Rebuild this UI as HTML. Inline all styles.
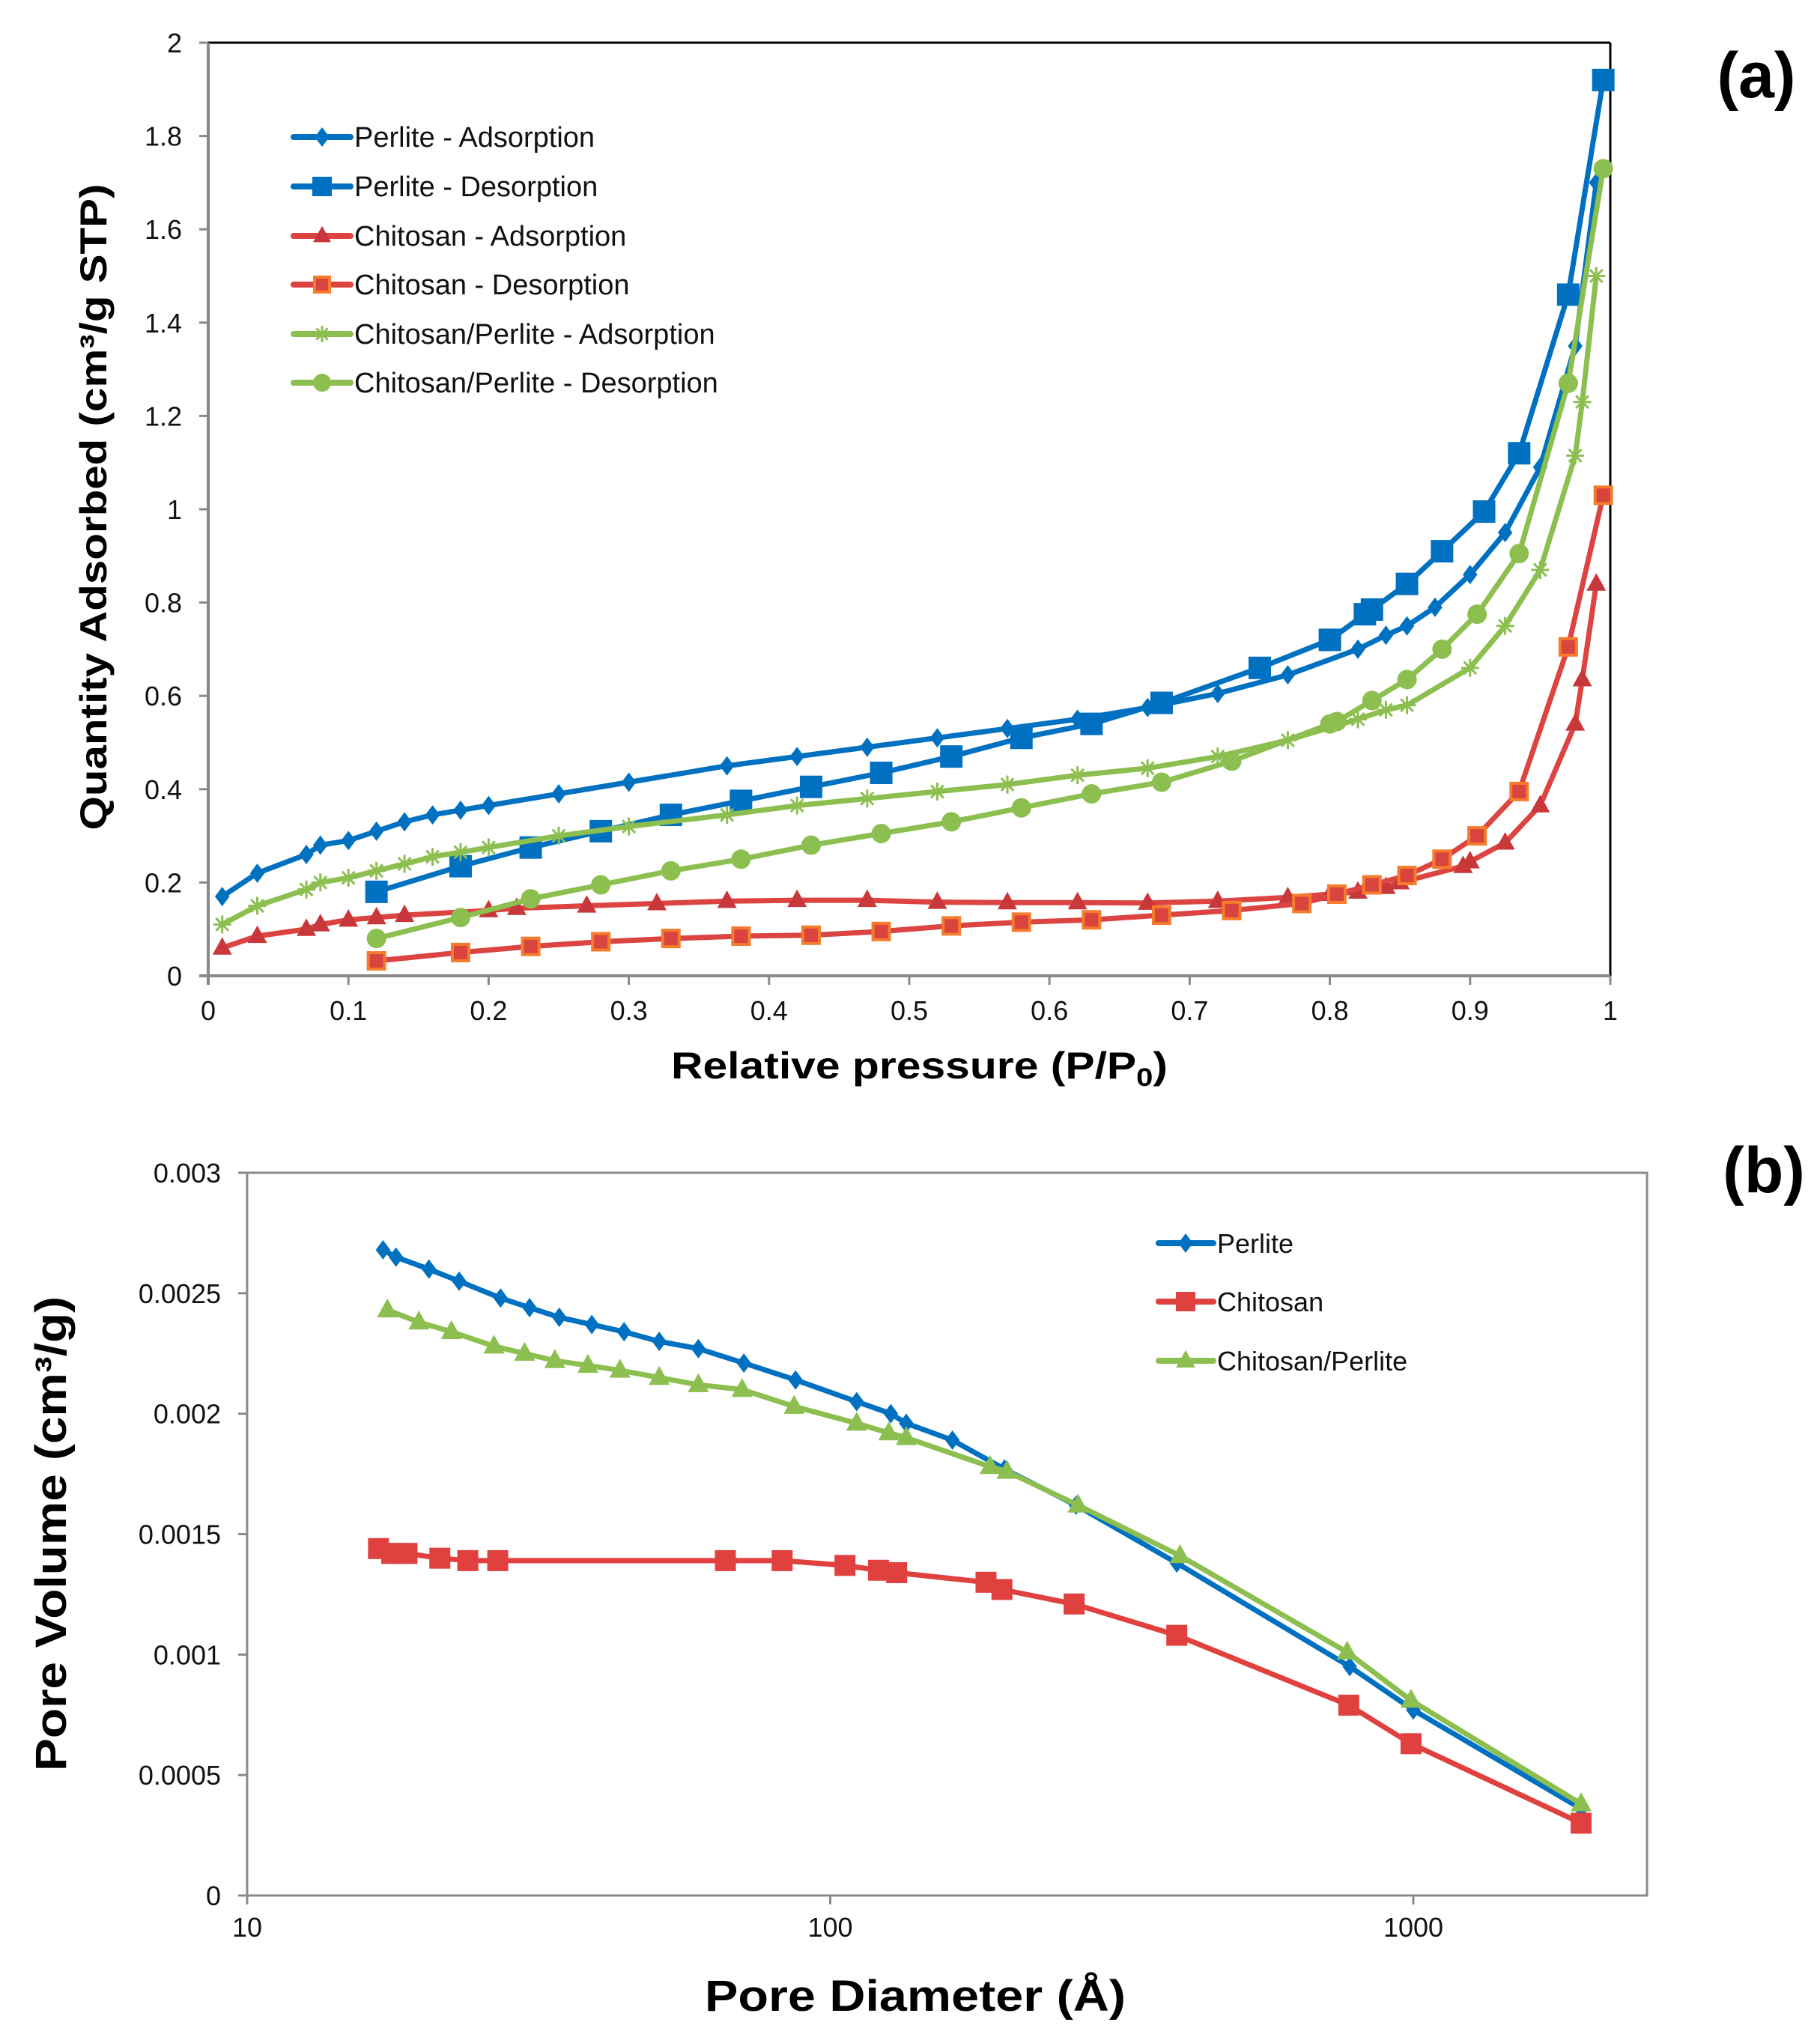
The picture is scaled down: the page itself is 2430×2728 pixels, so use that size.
<!DOCTYPE html>
<html><head><meta charset="utf-8">
<style>
html,body{margin:0;padding:0;background:#fff;}
svg{display:block;font-family:"Liberation Sans",Arial,sans-serif;}
</style></head>
<body>
<svg id="fig" width="2430" height="2728" viewBox="0 0 2430 2728" xmlns="http://www.w3.org/2000/svg">
<g id="pa"></g>
<g id="pb"></g>
</svg>
<script>
// ---- Chart (a) data: relative pressure vs quantity adsorbed ----
const perliteAdsX=[0.01,0.035,0.07,0.08,0.1,0.12,0.14,0.16,0.18,0.2,0.25,0.3,0.37,0.42,0.47,0.52,0.57,0.62,0.67,0.72,0.77,0.82,0.84,0.855,0.875,0.9,0.925,0.95,0.975,0.99];
const perliteAdsY=[0.17,0.22,0.26,0.28,0.29,0.31,0.33,0.345,0.355,0.365,0.39,0.415,0.45,0.47,0.49,0.51,0.53,0.55,0.575,0.605,0.645,0.70,0.73,0.75,0.79,0.86,0.95,1.09,1.35,1.70];
const perliteDesX=[0.995,0.97,0.935,0.91,0.88,0.855,0.83,0.825,0.8,0.75,0.68,0.63,0.58,0.53,0.48,0.43,0.38,0.33,0.28,0.23,0.18,0.12];
const perliteDesY=[1.92,1.46,1.12,0.995,0.91,0.84,0.785,0.775,0.72,0.66,0.585,0.54,0.51,0.47,0.435,0.405,0.375,0.345,0.31,0.275,0.235,0.18];
const chitAdsX=[0.01,0.035,0.07,0.08,0.1,0.12,0.14,0.2,0.22,0.27,0.32,0.37,0.42,0.47,0.52,0.57,0.62,0.67,0.72,0.77,0.8,0.82,0.84,0.85,0.895,0.9,0.925,0.95,0.975,0.98,0.99];
const chitAdsY=[0.06,0.085,0.1,0.11,0.12,0.125,0.13,0.14,0.145,0.15,0.155,0.16,0.162,0.162,0.158,0.157,0.157,0.156,0.16,0.168,0.175,0.18,0.19,0.2,0.235,0.245,0.285,0.365,0.54,0.635,0.84];
const chitDesX=[0.995,0.97,0.935,0.905,0.88,0.855,0.83,0.805,0.78,0.73,0.68,0.63,0.58,0.53,0.48,0.43,0.38,0.33,0.28,0.23,0.18,0.12];
const chitDesY=[1.03,0.705,0.395,0.3,0.25,0.215,0.195,0.175,0.155,0.14,0.13,0.12,0.115,0.107,0.095,0.087,0.085,0.08,0.073,0.063,0.05,0.032];
const cpAdsX=[0.01,0.035,0.07,0.08,0.1,0.12,0.14,0.16,0.18,0.2,0.25,0.3,0.37,0.42,0.47,0.52,0.57,0.62,0.67,0.72,0.77,0.82,0.84,0.855,0.9,0.925,0.95,0.975,0.98,0.99];
const cpAdsY=[0.11,0.15,0.185,0.2,0.21,0.225,0.24,0.255,0.265,0.275,0.3,0.32,0.345,0.365,0.38,0.395,0.41,0.43,0.445,0.47,0.505,0.55,0.57,0.58,0.66,0.75,0.87,1.115,1.23,1.5];
const cpDesX=[0.995,0.97,0.935,0.905,0.88,0.855,0.83,0.805,0.8,0.73,0.68,0.63,0.58,0.53,0.48,0.43,0.38,0.33,0.28,0.23,0.18,0.12];
const cpDesY=[1.73,1.27,0.905,0.775,0.7,0.635,0.59,0.545,0.54,0.46,0.415,0.39,0.36,0.33,0.305,0.28,0.25,0.225,0.195,0.165,0.125,0.08];
const aXTicks=[0,0.1,0.2,0.3,0.4,0.5,0.6,0.7,0.8,0.9,1];
const aXTickLabels=["0","0.1","0.2","0.3","0.4","0.5","0.6","0.7","0.8","0.9","1"];
const aYTicks=[0,0.2,0.4,0.6,0.8,1,1.2,1.4,1.6,1.8,2];
const aYTickLabels=["0","0.2","0.4","0.6","0.8","1","1.2","1.4","1.6","1.8","2"];
// ---- Chart (b) data: pore diameter vs pore volume ----
const perliteD=[17.1,18.0,20.5,23.1,27.2,30.5,34.3,39.0,44.3,50.9,59.4,71.1,87.2,111,127,135,162,199,264,393,778,1000,1940];
const perliteV=[0.00268,0.00265,0.0026,0.00255,0.00248,0.00244,0.0024,0.00237,0.00234,0.0023,0.00227,0.00221,0.00214,0.00205,0.002,0.00196,0.00189,0.00177,0.00162,0.00138,0.00095,0.00077,0.00036];
const chitD=[16.8,17.7,18.8,21.4,23.9,26.9,66.1,82.7,106,121,130,185,197,262,393,775,991,1940];
const chitV=[0.00144,0.00142,0.00142,0.0014,0.00139,0.00139,0.00139,0.00139,0.00137,0.00135,0.00134,0.0013,0.00127,0.00121,0.00108,0.00079,0.00063,0.0003];
const cpD=[17.4,19.7,22.4,26.5,29.9,33.7,38.4,43.6,50.9,59.4,70.6,86.7,111,126,135,188,201,266,398,770,991,1940];
const cpV=[0.00243,0.00238,0.00234,0.00228,0.00225,0.00222,0.0022,0.00218,0.00215,0.00212,0.0021,0.00203,0.00196,0.00192,0.0019,0.00178,0.00176,0.00162,0.00141,0.00101,0.00081,0.00038];
const bXTicks=[10,100,1000];
const bXTickLabels=["10","100","1000"];
const bYTicks=[0,0.0005,0.001,0.0015,0.002,0.0025,0.003];
const bYTickLabels=["0","0.0005","0.001","0.0015","0.002","0.0025","0.003"];

const NS="http://www.w3.org/2000/svg";
const BLUE="#0070c0",RED="#dc4442",GREEN="#8cbf4f";
function mk(parent,tag,attrs,text){const e=document.createElementNS(NS,tag);for(const k in attrs)e.setAttribute(k,attrs[k]);if(text!==undefined)e.textContent=text;parent.appendChild(e);return e;}

const AL=278,AR=2150,AT=57,AB=1303;
const ax=v=>AL+(v-0)/(1-0)*(AR-AL);
const ay=v=>AB-(v-0)/(2-0)*(AB-AT);
const BL=330,BR=2199,BT=1566,BB=2531;
const bx=v=>BL+(Math.log10(v)-1)*778.5;
const by=v=>BB-v/0.003*(BB-BT);

function marker(g,type,x,y,col,s){
  let m;
  if(type==="diamond") m=mk(g,"polygon",{points:`${x},${y-s} ${x+s*0.75},${y} ${x},${y+s} ${x-s*0.75},${y}`,fill:col});
  else if(type==="square") m=mk(g,"rect",{x:x-s,y:y-s,width:2*s,height:2*s,fill:col});
  else if(type==="osquare") m=mk(g,"rect",{x:x-s+2,y:y-s+2,width:2*s-4,height:2*s-4,fill:"#d9443e",stroke:"#f47c2c","stroke-width":4});
  else if(type==="triangle") m=mk(g,"polygon",{points:`${x},${y-s*1.1} ${x+s},${y+s*0.7} ${x-s},${y+s*0.7}`,fill:col});
  else if(type==="circle") m=mk(g,"circle",{cx:x,cy:y,r:s,fill:col});
  else m=mk(g,"path",{d:`M${x-s},${y}H${x+s}M${x},${y-s}V${y+s}M${x-s*0.7},${y-s*0.7}L${x+s*0.7},${y+s*0.7}M${x-s*0.7},${y+s*0.7}L${x+s*0.7},${y-s*0.7}`,stroke:col,"stroke-width":3,fill:"none"});
  return m;
}
function series(parent,name,xs,ys,fx,fy,col,mcol,type,s,lw){
  const g=mk(parent,"g",{});
  
  
  const pts=xs.map((v,i)=>fx(v).toFixed(1)+","+fy(ys[i]).toFixed(1)).join(" ");
  const l=mk(g,"polyline",{points:pts,fill:"none",stroke:col,"stroke-width":lw,"stroke-linejoin":"round","stroke-linecap":"round"});
  
  
  xs.forEach((v,i)=>{const m=marker(g,type,fx(v),fy(ys[i]),mcol,s);
    
    });
}

// ---------- chart a ----------
const pa=document.getElementById("pa");
mk(pa,"line",{x1:AL,y1:AT,x2:AR,y2:AT,stroke:"#000","stroke-width":3});
mk(pa,"line",{x1:AR,y1:AT,x2:AR,y2:AB,stroke:"#000","stroke-width":3});
mk(pa,"line",{x1:AL,y1:AT,x2:AL,y2:AB+12,stroke:"#888","stroke-width":4});
mk(pa,"line",{x1:AL-12,y1:AB,x2:AR,y2:AB,stroke:"#888","stroke-width":4});
aYTicks.forEach((v,i)=>{
  mk(pa,"line",{x1:AL-12,y1:ay(v),x2:AL,y2:ay(v),stroke:"#888","stroke-width":3});
  const t=mk(pa,"text",{x:243,y:ay(v)+13,"text-anchor":"end","font-size":36,fill:"#111"},aYTickLabels[i]);
  
  
});
aXTicks.forEach((v,i)=>{
  mk(pa,"line",{x1:ax(v),y1:AB,x2:ax(v),y2:AB+12,stroke:"#888","stroke-width":3});
  const t=mk(pa,"text",{x:ax(v),y:1362,"text-anchor":"middle","font-size":36,fill:"#111"},aXTickLabels[i]);
  
  
});
series(pa,"perlite-adsorption",perliteAdsX,perliteAdsY,ax,ay,BLUE,BLUE,"diamond",13,7);
series(pa,"perlite-desorption",perliteDesX,perliteDesY,ax,ay,BLUE,BLUE,"square",15,7);
series(pa,"chitosan-adsorption",chitAdsX,chitAdsY,ax,ay,RED,"#c8383a","triangle",13,7);
series(pa,"chitosan-desorption",chitDesX,chitDesY,ax,ay,RED,RED,"osquare",13,7);
series(pa,"chitosan-perlite-adsorption",cpAdsX,cpAdsY,ax,ay,GREEN,GREEN,"star",12,7);
series(pa,"chitosan-perlite-desorption",cpDesX,cpDesY,ax,ay,GREEN,GREEN,"circle",13,7);
const legA=[["Perlite - Adsorption",BLUE,"diamond",13,"#0070c0"],["Perlite - Desorption",BLUE,"square",13,BLUE],["Chitosan - Adsorption",RED,"triangle",12,"#c8383a"],["Chitosan - Desorption",RED,"osquare",12,RED],["Chitosan/Perlite - Adsorption",GREEN,"star",11,GREEN],["Chitosan/Perlite - Desorption",GREEN,"circle",12,GREEN]];
const legAY=[183,249,315,380,446,511];
legA.forEach((e,i)=>{
  const g=mk(pa,"g",{});
  
  
  const y=legAY[i];
  mk(g,"line",{x1:392,y1:y,x2:468,y2:y,stroke:e[1],"stroke-width":8,"stroke-linecap":"round"});
  marker(g,e[2],430,y,e[4],e[3]);
  mk(g,"text",{x:473,y:y+13,"font-size":38,fill:"#111"},e[0]);
});
const axt=mk(pa,"text",{x:896,y:1440,"font-size":50,"font-weight":"bold",fill:"#000",textLength:663,lengthAdjust:"spacingAndGlyphs"});


mk(axt,"tspan",{},"Relative pressure (P/P");
mk(axt,"tspan",{"font-size":34,dy:10},"0");
mk(axt,"tspan",{dy:-10},")");
const ayt=mk(pa,"text",{x:0,y:0,transform:"translate(142,677) rotate(-90)","text-anchor":"middle","font-size":50,"font-weight":"bold",fill:"#000",textLength:863,lengthAdjust:"spacingAndGlyphs"},"Quantity Adsorbed (cm³/g STP)");


const la=mk(pa,"text",{x:2345,y:130,"text-anchor":"middle","font-size":86,"font-weight":"bold",fill:"#000"},"(a)");



// ---------- chart b ----------
const pb=document.getElementById("pb");
mk(pb,"rect",{x:BL,y:BT,width:BR-BL,height:BB-BT,fill:"none",stroke:"#8a8a8a","stroke-width":3});
bYTicks.forEach((v,i)=>{
  mk(pb,"line",{x1:BL-12,y1:by(v),x2:BL,y2:by(v),stroke:"#8a8a8a","stroke-width":3});
  const t=mk(pb,"text",{x:295,y:by(v)+13,"text-anchor":"end","font-size":36,fill:"#111"},bYTickLabels[i]);
  
  
});
bXTicks.forEach((v,i)=>{
  mk(pb,"line",{x1:bx(v),y1:BB,x2:bx(v),y2:BB+12,stroke:"#8a8a8a","stroke-width":3});
  const t=mk(pb,"text",{x:bx(v),y:2586,"text-anchor":"middle","font-size":36,fill:"#111"},bXTickLabels[i]);
  
  
});
series(pb,"perlite-pore-volume",perliteD,perliteV,bx,by,BLUE,BLUE,"diamond",13,7);
series(pb,"chitosan-pore-volume",chitD,chitV,bx,by,"#e0403e","#e0403e","square",14,7);
series(pb,"chitosan-perlite-pore-volume",cpD,cpV,bx,by,GREEN,GREEN,"triangle",14,7);
const legB=[["Perlite",BLUE,"diamond"],["Chitosan","#e0403e","square"],["Chitosan/Perlite",GREEN,"triangle"]];
const legBY=[1660,1738,1817];
legB.forEach((e,i)=>{
  const g=mk(pb,"g",{});
  
  
  const y=legBY[i];
  mk(g,"line",{x1:1547,y1:y,x2:1620,y2:y,stroke:e[1],"stroke-width":8,"stroke-linecap":"round"});
  marker(g,e[2],1583,y,e[1],13);
  mk(g,"text",{x:1625,y:y+13,"font-size":36,fill:"#111"},e[0]);
});
const bxt=mk(pb,"text",{x:941,y:2685,"font-size":58,"font-weight":"bold",fill:"#000",textLength:562,lengthAdjust:"spacingAndGlyphs"},"Pore Diameter (Å)");


const byt=mk(pb,"text",{x:0,y:0,transform:"translate(88,2048) rotate(-90)","text-anchor":"middle","font-size":58,"font-weight":"bold",fill:"#000",textLength:634,lengthAdjust:"spacingAndGlyphs"},"Pore Volume (cm³/g)");


const lb=mk(pb,"text",{x:2355,y:1592,"text-anchor":"middle","font-size":86,"font-weight":"bold",fill:"#000"},"(b)");


</script>
</body></html>
